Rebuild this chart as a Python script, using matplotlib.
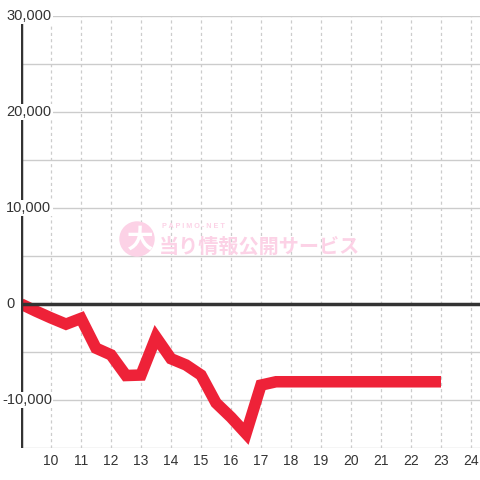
import matplotlib
matplotlib.use('Agg')
import matplotlib.pyplot as plt
from matplotlib.patches import Circle
import matplotlib.transforms as mtransforms

plt.rcParams['font.family'] = ['Liberation Sans', 'DejaVu Sans']

# hours (half-hour steps) and cumulative balance
hours = [9, 9.5, 10, 10.5, 11, 11.5, 12, 12.5, 13, 13.5, 14, 14.5, 15, 15.5,
         16, 16.5, 17, 17.5, 18, 18.5, 19, 19.5, 20, 20.5, 21, 21.5, 22, 22.5, 23]
balance = [0, -750, -1450, -2100, -1500, -4600, -5300, -7450, -7400, -3450,
           -5700, -6350, -7400, -10300, -11800, -13500, -8450, -8100, -8100,
           -8100, -8100, -8100, -8100, -8100, -8100, -8100, -8100, -8100, -8100]
xticks = list(range(10, 25))
yticks = [-10000, 0, 10000, 20000, 30000]
ygrid = list(range(-15000, 30001, 5000))

fig = plt.figure(figsize=(4.8, 4.8), dpi=100)
ax = fig.add_axes([21 / 480, 32 / 480, 459 / 480, 432 / 480])
ax.set_xlim(9, 24.3)
ax.set_ylim(-15000, 30000)
for s in ax.spines.values():
    s.set_visible(False)

for v in ygrid:
    ax.axhline(v, color='#cccccc', lw=1, zorder=1)
for v in xticks:
    ax.axvline(v, color='#cccccc', lw=0.9, ls=(0, (2.5, 2.5)), zorder=1)

# watermark
pink = '#fcd2e6'
ax.add_patch(Circle((137 / 480, (480 - 239) / 480), 17 / 480, transform=fig.transFigure,
                    color=pink, zorder=2, clip_on=False))
fig.text(140 / 480, (480 - 240) / 480, '大', family=['Noto Sans CJK JP'], fontsize=19,
         fontweight='bold', color='white', ha='center', va='center', zorder=3)
fig.text(162 / 480, (480 - 226) / 480, 'P A P I M O - N E T', fontsize=5.2,
         fontweight='bold', color=pink, ha='left', va='center')
fig.text(159 / 480, (480 - 246) / 480, '当り情報公開サービス', family=['Noto Sans CJK JP'],
         fontsize=14.5, fontweight='bold', color=pink, ha='left', va='center')

ax.plot(hours, balance, color='#ee2238', lw=8.3, solid_joinstyle='miter',
        solid_capstyle='butt', zorder=4)

ax.axhline(0, color='#333333', lw=2.5, zorder=5)
ax.axvline(9, color='#333333', lw=2.5, zorder=5)

ax.set_xticks(xticks)
ax.set_xticklabels([str(v) for v in xticks], fontsize=10, color='#333333')
ax.tick_params(axis='x', length=0, pad=4)
ax.set_yticks([])

trans = mtransforms.blended_transform_factory(fig.transFigure, ax.transData)
for v in yticks:
    x0 = 2 if v < 0 else 6
    ax.text(x0 / 480, v, f'{v:,}', transform=trans, fontsize=10.5, color='#333333',
            ha='left', va='center', zorder=6, clip_on=False,
            bbox=dict(boxstyle='square,pad=0.1', fc='white', ec='none'))

fig.savefig('out.png', dpi=100)
